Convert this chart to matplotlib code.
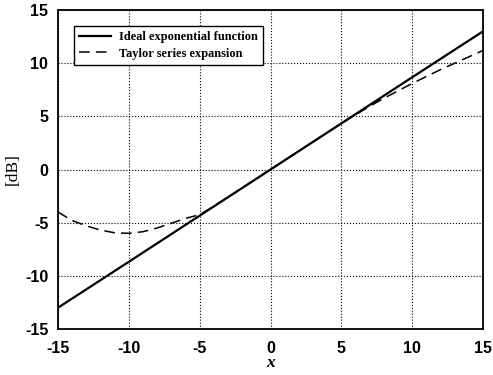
import numpy as np
import matplotlib.pyplot as plt

plt.rcParams['axes.unicode_minus'] = False

# values
x_ideal = [-15, -10, -5, 0, 5, 10, 15]
y_ideal = [-13.0, -8.68, -4.34, 0.0, 4.34, 8.68, 13.0]

x_taylor = [-15, -14, -13, -12, -11, -10, -9, -8, -7, -6, -5, -4, -3, -2, -1,
            0, 1, 2, 3, 4, 5, 6, 7, 8, 9, 10, 11, 12, 13, 14, 15]
y_taylor = [-4.0, -4.8, -5.3, -5.7, -5.95, -6.0, -5.85, -5.5, -5.05, -4.6, -4.25,
            -3.45, -2.6, -1.73, -0.87, 0.0, 0.87, 1.73, 2.6, 3.47, 4.34, 5.15,
            5.95, 6.7, 7.4, 8.1, 8.75, 9.4, 10.0, 10.6, 11.2]

ticks = [-15, -10, -5, 0, 5, 10, 15]

fig = plt.figure(figsize=(4.93, 3.75), dpi=100)
ax = fig.add_axes([0.1176, 0.1227, 0.8624, 0.8506])

ax.plot(x_ideal, y_ideal, color='black', lw=1.6, label='Ideal exponential function')
ax.plot(x_taylor, y_taylor, color='black', lw=1.1, ls=(0, (7, 4)), label='Taylor series expansion')

ax.set_xlim(-15, 15)
ax.set_ylim(-15, 15)
ax.set_xticks(ticks)
ax.set_yticks(ticks)
ax.grid(True, color='black', ls=':', lw=0.8)
ax.tick_params(direction='in', length=0, labelsize=11.5)
ax.tick_params(axis='x', pad=9)
ax.tick_params(axis='y', pad=7)
for lbl in ax.get_xticklabels() + ax.get_yticklabels():
    lbl.set_fontfamily('Liberation Sans')
    lbl.set_fontweight('bold')
for s in ax.spines.values():
    s.set_linewidth(1.3)

ax.set_xlabel('x', family='Liberation Serif', style='italic', weight='bold', fontsize=12.5, labelpad=-1)
ax.set_ylabel('[dB]', family='Liberation Serif', fontsize=12.5, labelpad=3)

leg = ax.legend(loc='upper left', prop={'family': 'Liberation Serif', 'weight': 'bold', 'size': 8.9},
                fancybox=False, framealpha=1, edgecolor='black', handlelength=2.6,
                handletextpad=0.6, borderpad=0.45, labelspacing=0.35,
                bbox_to_anchor=(0.022, 0.97))
leg.get_frame().set_linewidth(1.0)

fig.savefig('out.png', dpi=100)
